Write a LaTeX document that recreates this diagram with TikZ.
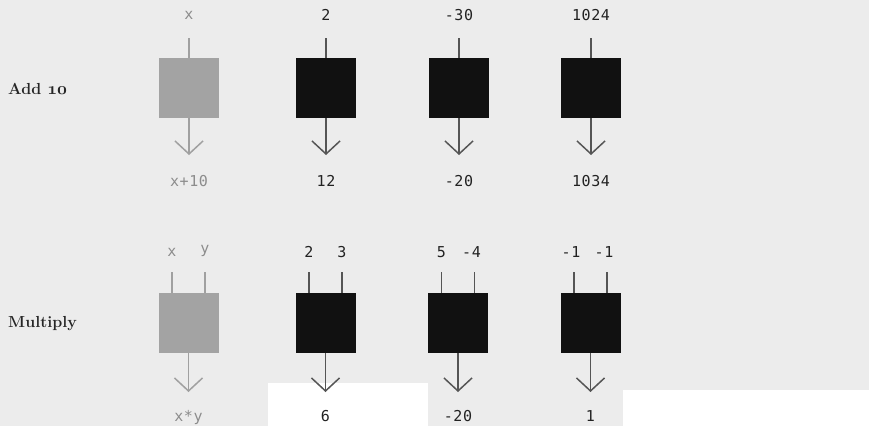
\documentclass[tikz,border=0pt]{standalone}
\usepackage{fontspec}
\usetikzlibrary{arrows.meta}
\newfontfamily\numfont[LetterSpace=4]{DejaVu Sans Mono}
\definecolor{bggray}{HTML}{ECECEC}
\definecolor{boxdark}{HTML}{111111}
\definecolor{boxlight}{HTML}{A3A3A3}
\definecolor{linedark}{HTML}{555555}
\definecolor{linelight}{HTML}{A0A0A0}
\definecolor{textdark}{HTML}{222222}
\definecolor{textlight}{HTML}{8C8C8C}
\tikzset{
  fnbox/.style={minimum width=60pt, minimum height=60pt, inner sep=0pt, draw=none},
  darkbox/.style={fnbox, fill=boxdark},
  lightbox/.style={fnbox, fill=boxlight},
  wire/.style={line width=1.5pt, draw=linedark},
  lightwire/.style={line width=1.5pt, draw=linelight},
  outarrow/.style={-{Straight Barb[length=13pt,width=28pt,line width=1.5pt]}},
  numlbl/.style={font=\numfont\fontsize{15}{15}\selectfont, text=textdark, inner sep=0pt},
  lightlbl/.style={numlbl, text=textlight},
  rowlbl/.style={font=\bfseries\fontsize{16}{20}\selectfont, text=black!85, inner sep=0pt, anchor=west}
}
\begin{document}
\begin{tikzpicture}[x=1pt,y=-1pt]
\useasboundingbox (0,0) rectangle (869,426);
\fill[bggray] (0,0) rectangle (869,426);
\fill[white] (268,383) rectangle (428,426);
\fill[white] (623,390) rectangle (869,426);

% row labels
\node[rowlbl] (add) at (8,89) {Add {\usefont{OML}{cmm}{b}{it}\fontsize{16}{20}\selectfont 10}};
\node[rowlbl] (mul) at (8,324) {Multiply};

% ---------- Row 1: Add 10 ----------
\node[lightbox] (b1) at (189,88) {};
\node[lightlbl] (l1in) at (189,15) {x};
\coordinate (i1) at (189,38);
\coordinate (t1) at (189,155);
\node[lightlbl] (l1out) at (189,181) {x+10};
\draw[lightwire] (i1) -- (b1.north);
\draw[lightwire,outarrow] (b1.south) -- (t1);

\foreach \n/\x/\inp/\outp in {2/326/2/12, 3/459/-30/-20, 4/591/1024/1034}{
  \node[darkbox] (b\n) at (\x,88) {};
  \node[numlbl] (l\n in) at (\x,15) {\inp};
  \coordinate (i\n) at (\x,38);
  \coordinate (t\n) at (\x,155);
  \node[numlbl] (l\n out) at (\x,181) {\outp};
  \draw[wire] (i\n) -- (b\n.north);
  \draw[wire,outarrow] (b\n.south) -- (t\n);
}

% ---------- Row 2: Multiply ----------
\node[lightbox] (m1) at (188.5,323) {};
\coordinate (m1a) at (172,272);
\coordinate (m1b) at (205,272);
\node[lightlbl] (m1la) at (172,252) {x};
\node[lightlbl] (m1lb) at (205,251) {y};
\coordinate (m1t) at (188.5,392);
\node[lightlbl] (m1out) at (188.5,417) {x*y};
\draw[lightwire] (m1a) -- (m1a |- m1.north);
\draw[lightwire] (m1b) -- (m1b |- m1.north);
\draw[lightwire,outarrow] (m1.south) -- (m1t);

\foreach \n/\x/\ina/\inb/\outp/\da/\db in {2/325.5/2/3/6/0/0, 3/458/5/-4/-20/0/-3, 4/590.5/-1/-1/1/-3/-3}{
  \node[darkbox] (m\n) at (\x,323) {};
  \coordinate (m\n a) at (\x-16.5,272);
  \coordinate (m\n b) at (\x+16.5,272);
  \node[numlbl] (m\n la) at (\x-16.5+\da,252) {\ina};
  \node[numlbl] (m\n lb) at (\x+16.5+\db,252) {\inb};
  \coordinate (m\n t) at (\x,392);
  \node[numlbl] (m\n out) at (\x,416) {\outp};
  \draw[wire] (m\n a) -- (m\n a |- m\n.north);
  \draw[wire] (m\n b) -- (m\n b |- m\n.north);
  \draw[wire,outarrow] (m\n.south) -- (m\n t);
}
\end{tikzpicture}
\end{document}
